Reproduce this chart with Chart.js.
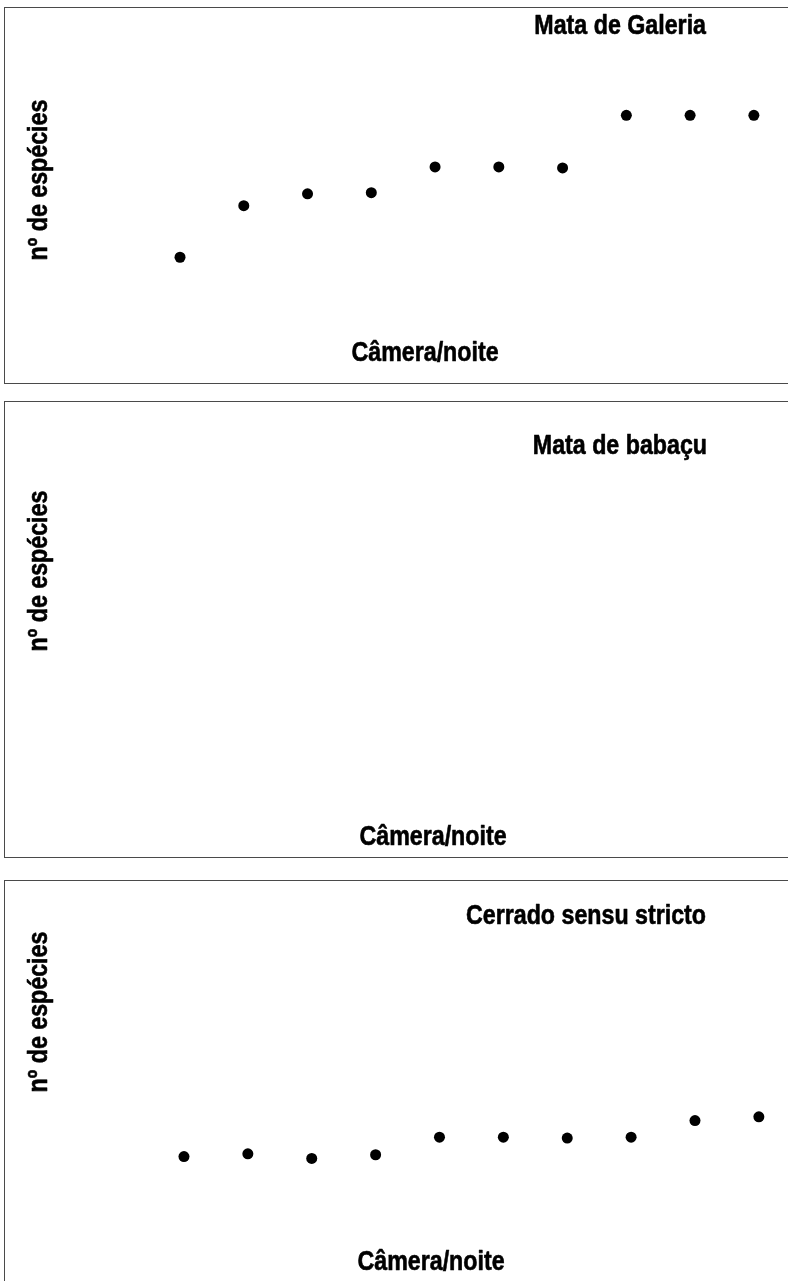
<!DOCTYPE html>
<html>
<head>
<meta charset="utf-8">
<script src="https://cdn.jsdelivr.net/npm/chart.js@4/dist/chart.umd.min.js"></script>
<style>
  html, body { margin: 0; padding: 0; background: #fff; }
  body { position: relative; width: 788px; height: 1281px; overflow: hidden; }
  .box { position: absolute; left: 4px; width: 800px; box-sizing: border-box; border: 1.5px solid #4a4a4a; }
  canvas { position: absolute; left: 0; }
</style>
</head>
<body>
<div class="box" style="top:7px; height:377px;"></div>
<div class="box" style="top:401px; height:457px;"></div>
<div class="box" style="top:879.5px; height:420px;"></div>
<canvas id="galeria" width="788" height="392" style="top:0px;"></canvas>
<canvas id="babacu" width="788" height="474" style="top:392px;"></canvas>
<canvas id="cerrado" width="788" height="415" style="top:866px;"></canvas>
<script>
// camera-nights on the x axis, species count on the y axis (no ticks shown in the original)
const cameraNights = [1, 2, 3, 4, 5, 6, 7, 8, 9, 10];
const galeriaSpecies = [5.5, 7.5, 7.96, 8.0, 9.0, 9.0, 8.96, 11, 11, 11];
const babacuSpecies = [];
const cerradoSpecies = [2.95, 3.1, 2.85, 3.05, 4, 4, 3.95, 4, 4.9, 5.1];

const xLabel = 'Câmera/noite';
const yLabel = 'nº de espécies';
const FONT = 'bold 27px "Liberation Sans", Arial, sans-serif';
const SQUEEZE = 0.86; // narrow bold look of the original lettering

const panelText = {
  id: 'panelText',
  afterDraw(chart, args, opts) {
    const ctx = chart.ctx;
    ctx.save();
    ctx.fillStyle = '#000';
    ctx.strokeStyle = '#000';
    ctx.lineWidth = 0.6;
    ctx.lineJoin = 'round';
    ctx.font = FONT;
    ctx.textBaseline = 'alphabetic';
    (opts.labels || []).forEach((l) => {
      ctx.save();
      ctx.translate(l.x, l.y);
      if (l.rotate) ctx.rotate(l.rotate);
      ctx.scale(SQUEEZE, 1);
      ctx.textAlign = l.align || 'center';
      ctx.fillText(l.text, 0, 0);
      ctx.strokeText(l.text, 0, 0);
      ctx.restore();
    });
    ctx.restore();
  },
};

const makePanel = (id, values, scales, labels) => {
  const points = values.map((v, i) => ({ x: cameraNights[i], y: v }));
  return new Chart(document.getElementById(id), {
    type: 'scatter',
    data: {
      datasets: [{
        data: points,
        backgroundColor: '#000',
        borderWidth: 0,
        pointRadius: 5.5,
        pointHoverRadius: 5.5,
      }],
    },
    options: {
      responsive: false,
      animation: false,
      layout: { padding: 0 },
      scales: {
        x: { type: 'linear', display: false, min: scales.xMin, max: scales.xMax },
        y: { type: 'linear', display: false, min: scales.yMin, max: scales.yMax },
      },
      plugins: {
        legend: { display: false },
        tooltip: { enabled: false },
        panelText: { labels },
      },
    },
    plugins: [panelText],
  });
};

makePanel('galeria', galeriaSpecies,
  { xMin: -1.737, xMax: 10.449, yMin: 0.491, yMax: 15.256 },
  [
    { text: 'Mata de Galeria', x: 706, y: 34, align: 'right' },
    { text: yLabel, x: 47, y: 180, rotate: -Math.PI / 2 },
    { text: xLabel, x: 425, y: 361 },
  ]);

makePanel('babacu', babacuSpecies,
  { xMin: -1.737, xMax: 10.449, yMin: 0, yMax: 10 },
  [
    { text: 'Mata de babaçu', x: 707, y: 454 - 392, align: 'right' },
    { text: yLabel, x: 47, y: 571 - 392, rotate: -Math.PI / 2 },
    { text: xLabel, x: 433, y: 845 - 392 },
  ]);

makePanel('cerrado', cerradoSpecies,
  { xMin: -1.794, xMax: 10.370, yMin: -3.479, yMax: 18.363 },
  [
    { text: 'Cerrado sensu stricto', x: 706, y: 924 - 866, align: 'right' },
    { text: yLabel, x: 47, y: 1012 - 866, rotate: -Math.PI / 2 },
    { text: xLabel, x: 431, y: 1270 - 866 },
  ]);
</script>
</body>
</html>
